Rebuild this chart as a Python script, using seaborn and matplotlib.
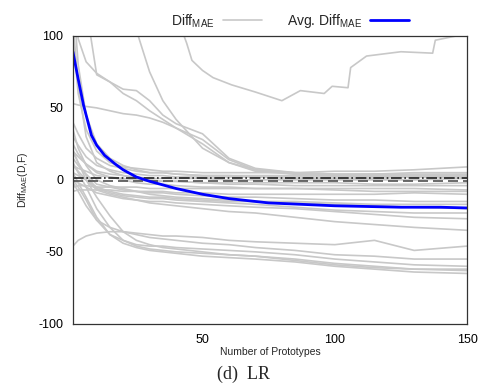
import matplotlib
matplotlib.use("Agg")
import matplotlib.pyplot as plt
from matplotlib.lines import Line2D
import seaborn as sns

sns.set_theme(style="white")
plt.rcParams['font.family'] = ['Liberation Sans', 'DejaVu Sans']
plt.rcParams['mathtext.fontset'] = 'custom'
plt.rcParams['mathtext.rm'] = 'Liberation Sans'
plt.rcParams['mathtext.it'] = 'Liberation Sans'

# sample positions (number of prototypes)
x_protos = [1, 3, 6, 10, 15, 20, 25, 30, 35, 40, 50, 60, 70, 85, 100, 115, 130, 150]

# the one curve that dips and climbs back above 100
u_x = [42, 44, 46, 50, 54, 61, 70, 80, 87, 96, 99, 105, 106, 112, 125, 137, 138, 146, 150]
u_diff = [105, 95, 83, 76, 71, 66, 61, 55, 62, 60, 65, 64, 78, 86, 89, 88, 97, 100, 102]

# individual Diff_MAE curves (>100 is off-chart)
diff_a = [200, 200, 120, 73, 68, 63, 62, 55, 45, 39, 32, 15, 8, 5, 4, 4, 3, 3]
diff_b = [140, 98, 82, 74, 68, 60, 55, 48, 42, 36, 28, 14, 7, 4, 3, 2, 2, 2]
diff_c = [53, 52, 51, 50, 48, 46, 45, 43, 40, 36, 25, 12, 6, 4, 3, 3, 3, 3]
diff_d = [200, 200, 200, 200, 200, 200, 104, 75, 55, 42, 22, 12, 7, 5, 4, 4, 4, 4]
diff_h1 = [130, 80, 45, 25, 15, 10, 7, 5, 5, 4, 3, 3, 2, 2, 2, 2, 2, 2]
diff_h2 = [110, 65, 30, 12, 6, 3, 1, 0, -1, -1, -2, -3, -3, -4, -4, -4, -4, -4]
diff_n1 = [100, 60, 35, 20, 12, 9, 8, 7, 6, 6, 5, 5, 5, 5, 6, 6, 7, 9]
diff_n2 = [40, 32, 22, 15, 10, 8, 6, 5, 5, 4, 3, 3, 3, 3, 3, 4, 5, 5]
diff_n3 = [30, 24, 16, 10, 7, 5, 4, 3, 3, 2, 2, 2, 2, 1, 1, 1, 2, 3]
diff_n4 = [20, 16, 11, 6, 4, 3, 2, 1, 1, 1, 1, 0, 0, 0, 0, 0, 0, 1]
diff_n5 = [10, 8, 6, 3, 2, 1, 0, -1, -1, -1, -2, -2, -2, -2, -2, -3, -3, -2]
diff_n6 = [-5, -4, -4, -5, -5, -5, -5, -6, -6, -6, -6, -6, -6, -6, -6, -6, -6, -7]
diff_n7 = [25, 18, 11, 5, 2, 0, -2, -3, -3, -4, -5, -5, -6, -6, -7, -8, -8, -8]
diff_n8 = [-8, -7, -7, -7, -7, -8, -8, -8, -8, -9, -9, -10, -10, -10, -10, -10, -9, -10]
diff_m1 = [15, 10, 4, -3, -5, -7, -8, -9, -9, -10, -11, -12, -12, -13, -14, -14, -15, -15]
diff_m2 = [35, 22, 10, 0, -4, -6, -8, -10, -11, -12, -13, -14, -15, -15, -16, -17, -17, -17]
diff_m3 = [5, 3, 0, -5, -8, -10, -11, -12, -12, -13, -14, -15, -15, -16, -17, -18, -19, -20]
diff_m4 = [20, 12, 3, -6, -9, -11, -12, -13, -13, -14, -15, -16, -17, -19, -21, -22, -23, -23]
diff_m5 = [0, -2, -5, -9, -11, -13, -14, -15, -15, -16, -17, -18, -19, -20, -22, -24, -26, -27]
diff_m6 = [10, 6, 0, -7, -10, -12, -14, -16, -17, -18, -20, -22, -23, -26, -29, -31, -33, -35]
diff_l1 = [-46, -42, -39, -37, -36, -36, -37, -38, -39, -39, -40, -42, -43, -44, -45, -42, -49, -46]
diff_l2 = [-2, -8, -18, -28, -33, -36, -38, -40, -41, -42, -44, -45, -47, -49, -52, -53, -55, -55]
diff_l3 = [5, -2, -12, -26, -38, -42, -45, -46, -46, -47, -48, -49, -50, -52, -55, -57, -59, -60]
diff_l4 = [12, 5, -5, -20, -33, -42, -46, -48, -49, -50, -51, -52, -53, -55, -58, -60, -62, -63]
diff_l5 = [0, -5, -14, -28, -38, -44, -47, -49, -50, -51, -53, -54, -55, -57, -60, -62, -64, -65]
diff_l6 = [20, 12, 0, -12, -25, -36, -42, -45, -47, -48, -50, -52, -53, -56, -59, -61, -62, -62]

# average curve
avg_x = [1, 3, 5, 8, 10, 13, 17, 20, 25, 30, 40, 50, 60, 75, 100, 125, 140, 150]
avg_diff = [89, 70, 52, 31, 24, 17, 11, 7, 2, -1, -6, -10, -13, -16, -18, -19, -19, -19.5]

# reference lines near zero
ref_x = [1, 150]
ref_a = [1, 1]
ref_b = [-1, -1]

gray_series = [diff_a, diff_b, diff_c, diff_d, diff_h1, diff_h2,
               diff_n1, diff_n2, diff_n3, diff_n4, diff_n5, diff_n6, diff_n7, diff_n8,
               diff_m1, diff_m2, diff_m3, diff_m4, diff_m5, diff_m6,
               diff_l1, diff_l2, diff_l3, diff_l4, diff_l5, diff_l6]

fig = plt.figure(figsize=(4.86, 3.86), dpi=100)
ax = fig.add_axes([0.150, 0.161, 0.811, 0.746])

gray = "#c8c8c8"
sns.lineplot(x=u_x, y=u_diff, ax=ax, color=gray, linewidth=1.2)
for s in gray_series:
    sns.lineplot(x=x_protos, y=s, ax=ax, color=gray, linewidth=1.2)

sns.lineplot(x=ref_x, y=ref_a, ax=ax, color="#202020", linewidth=1.2, linestyle="-.")
sns.lineplot(x=ref_x, y=ref_b, ax=ax, color="#505050", linewidth=1.2, linestyle=(0, (6, 3)))

sns.lineplot(x=avg_x, y=avg_diff, ax=ax, color="#0000ff", linewidth=2.0)

ax.set_xlim(1, 150)
ax.set_ylim(-100, 100)
ax.set_xticks([50, 100, 150])
ax.set_yticks([-100, -50, 0, 50, 100])
ax.set_yticklabels(["-100", "-50", "0", "50", "100"])
ax.tick_params(axis="both", length=0, labelsize=9, colors="black", pad=7)

for _, spine in ax.spines.items():
    spine.set_visible(True)
    spine.set_edgecolor("#333333")
    spine.set_linewidth(0.9)

ax.set_xlabel("Number of Prototypes", fontsize=7.5, labelpad=1)
ax.set_ylabel("Diff$_{\\mathrm{MAE}}$(D,F)", fontsize=7.5, labelpad=6)

# legend in gnuplot style (text then line sample)
handles = [Line2D([], [], color=gray, linewidth=1.2),
           Line2D([], [], color="#0000ff", linewidth=2.0)]
labels = ["Diff$_{\\mathrm{MAE}}$", "Avg. Diff$_{\\mathrm{MAE}}$"]
fig.legend(handles, labels, loc="center", bbox_to_anchor=(0.597, 0.945), ncol=2,
           frameon=False, markerfirst=False, fontsize=10, handlelength=2.8,
           handletextpad=0.6, columnspacing=1.8)

fig.text(0.5, 0.03, "(d)  LR", ha="center", va="center",
         fontsize=13, family=["Liberation Serif", "DejaVu Serif"])

fig.savefig("out.png", dpi=100)
